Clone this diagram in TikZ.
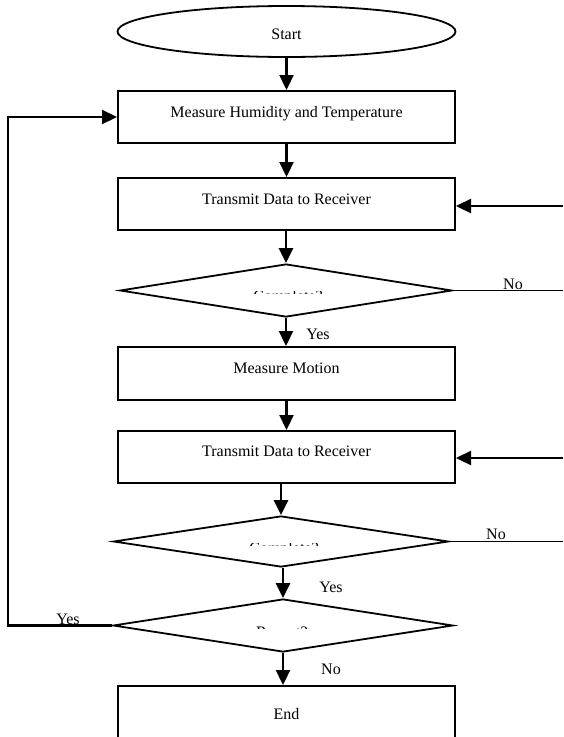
\documentclass[tikz,border=0pt]{standalone}
\usepackage{fontspec}
\setmainfont{Liberation Serif}
\usetikzlibrary{shapes.geometric,arrows.meta}
\begin{document}
\begin{tikzpicture}[x=1pt,y=-1pt,
  txt/.style={font=\fontsize{16pt}{19pt}\selectfont, inner sep=0pt, anchor=base},
  stepbox/.style={draw, line width=2pt, minimum width=337pt, inner sep=0pt},
  dec/.style={draw, diamond, line width=1.8pt, inner sep=0pt},
  term/.style={draw, ellipse, line width=1.8pt, inner sep=0pt},
  arr/.style={line width=2.3pt, -{Triangle[length=15pt,width=14pt]}},
  thinln/.style={line width=1.7pt}]
\useasboundingbox (0,0) rectangle (563,737);
\fill[white] (0,0) rectangle (563,737);
\clip (0,0) rectangle (563,737);

% shapes
\node[term, minimum width=338pt, minimum height=51pt] (start) at (286.5,31.5) {};
\node[stepbox, minimum height=52pt] (box1) at (286.5,117) {};
\node[stepbox, minimum height=52pt] (box2) at (286.5,204) {};
\node[dec, minimum width=332pt, minimum height=53pt] (d1) at (286,290.5) {};
\node[stepbox, minimum height=53pt] (box3) at (286.5,373.5) {};
\node[stepbox, minimum height=52pt] (box4) at (286.5,457) {};
\node[dec, minimum width=335pt, minimum height=51pt] (d2) at (281,541.5) {};
\node[dec, minimum width=340pt, minimum height=53pt] (d3) at (283,625.5) {};
\node[stepbox, minimum height=104pt] (endbox) at (286.5,738) {};

% texts
\node[txt] (tstart) at (286.5,39) {Start};
\node[txt] (t1) at (286.5,117) {Measure Humidity and Temperature};
\node[txt] (t2) at (286.5,204) {Transmit Data to Receiver};
\node[txt] (t3) at (286.5,373) {Measure Motion};
\node[txt] (t4) at (286.5,456) {Transmit Data to Receiver};
\node[txt] (tend) at (286.5,719) {End};

% clipped decision texts
\begin{scope}
\clip (230,291.2) rectangle (345,293.3);
\node[txt] (q1) at (288,301.8) {Complete?};
\end{scope}
\begin{scope}
\clip (230,543.2) rectangle (345,545.3);
\node[txt] (q2) at (284,553.6) {Complete?};
\end{scope}
\begin{scope}
\clip (230,626.7) rectangle (345,628.8);
\node[txt] (q3) at (282,637.2) {Repeat?};
\end{scope}

% labels
\node[txt] (no1) at (513,289) {No};
\node[txt] (yes1) at (318,339) {Yes};
\node[txt] (no2) at (496,539) {No};
\node[txt] (yes2) at (331,592) {Yes};
\node[txt] (yes3) at (68,624) {Yes};
\node[txt] (no3) at (331,674) {No};

% free ends
\coordinate (r1) at (563,206);
\coordinate (r2) at (563,458);
\coordinate (n1) at (563,290.5);
\coordinate (n2) at (563,541.5);
\coordinate (lx) at (8,0);

% connectors
\draw[arr] (start.south) -- (box1.north);
\draw[arr] (box1.south) -- (box2.north);
\draw[arr] (box2.south -| d1.north) -- (d1.north);
\draw[arr] (d1.south) -- (d1.south |- box3.north);
\draw[arr] (box3.south) -- (box4.north);
\draw[arr] (box4.south -| d2.north) -- (d2.north);
\draw[arr] (d2.south -| d3.north) -- (d3.north);
\draw[arr] (d3.south) -- (d3.south |- endbox.north);

\draw[arr] (r1) -- (r1 -| box2.east);
\draw[arr] (r2) -- (r2 -| box4.east);
\draw[thinln] (d1.east) -- (n1);
\draw[thinln] (d2.east) -- (n2);
\draw[arr] (d3.west) -- (d3.west -| lx) -- (lx |- box1.west) -- (box1.west);
\end{tikzpicture}
\end{document}
